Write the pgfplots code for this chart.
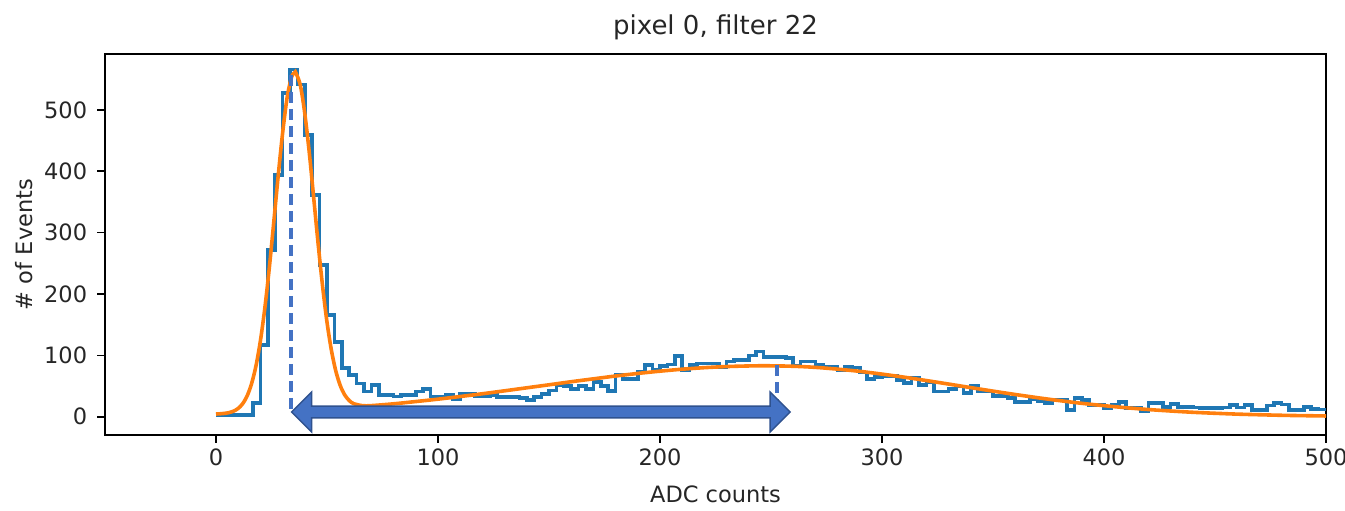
\documentclass[border=0pt]{standalone}
\usepackage{pgfplots}
\pgfplotsset{compat=1.18}
\usepackage{fontspec}
\setmainfont{DejaVu Sans}
\definecolor{mplblue}{HTML}{1F77B4}
\definecolor{mplorange}{HTML}{FF7F0E}
\definecolor{offblue}{HTML}{4472C4}
\definecolor{offdark}{HTML}{2F528F}
\begin{document}
\begin{tikzpicture}
\begin{axis}[
  name=ax,
  scale only axis,
  width=1221pt, height=381pt,
  xmin=-50, xmax=500, ymin=-29.8, ymax=591,
  xtick={0,100,200,300,400,500},
  ytick={0,100,200,300,400,500},
  tick align=outside,
  major tick length=7.7pt,
  xtick pos=bottom, ytick pos=left,
  tick style={line width=1.6pt, black},
  axis line style={line width=1.6pt, black},
  /pgf/number format/assume math mode=true,
  ticklabel style={font=\fontsize{22.5}{26}\selectfont, text=black!85},
  xticklabel style={anchor=north, inner sep=0pt, yshift=-6pt},
  yticklabel style={anchor=east, inner sep=0pt, xshift=-10pt},
  clip=false,
]
\addplot[const plot mark left, mplblue, line width=3.6pt] table {
0 3
3.333 3
6.667 3
10 3
13.333 3
16.667 22
20 117
23.333 272
26.667 394
30 527
33.333 566
36.667 541
40 459
43.333 361
46.667 247
50 166
53.333 122
56.667 79
60 68
63.333 54
66.667 41
70 52
73.333 35
76.667 35
80 33
83.333 35
86.667 35
90 41
93.333 45
96.667 33
100 33
103.333 35
106.667 28
110 38
113.333 38
116.667 33
120 33
123.333 35
126.667 32
130 32
133.333 32
136.667 30
140 27
143.333 32
146.667 37
150 43
153.333 52
156.667 50
160 45
163.333 50
166.667 45
170 57
173.333 50
176.667 42
180 68
183.333 61
186.667 61
190 73
193.333 84
196.667 76
200 83
203.333 85
206.667 99
210 76
213.333 84
216.667 87
220 87
223.333 87
226.667 81
230 90
233.333 92
236.667 92
240 100
243.333 106
246.667 97
250 97
253.333 97
256.667 96
260 83
263.333 90
266.667 90
270 84
273.333 81
276.667 81
280 76
283.333 81
286.667 80
290 72
293.333 61
296.667 65
300 66
303.333 66
306.667 60
310 55
313.333 63
316.667 52
320 57
323.333 41
326.667 41
330 45
333.333 49
336.667 39
340 50
343.333 41
346.667 41
350 34
353.333 34
356.667 30
360 24
363.333 24
366.667 28
370 25
373.333 22
376.667 27
380 27
383.333 11
386.667 30
390 27
393.333 19
396.667 19
400 14
403.333 19
406.667 24
410 14
413.333 14
416.667 9
420 22
423.333 22
426.667 16
430 21
433.333 16
436.667 16
440 15
443.333 14
446.667 14
450 14
453.333 15
456.667 19
460 15
463.333 19
466.667 11
470 11
473.333 18
476.667 22
480 20
483.333 11
486.667 11
490 16
493.333 13
496.667 12
500 12
};
\addplot[smooth, mplorange, line width=3.6pt] coordinates {
(0,4.4) (2,4.8) (4,5.5) (6,6.8) (8,9.2) (10,13.5) (12,21.1) (14,33.7) (16,53.5) (18,82.7)
(20,123.6) (22,177) (24,242) (26,316) (28,392) (30,462) (32,519) (34,553) (35.5,561) (36,560)
(38,540) (40,494) (42,431) (44,357) (46,282) (48,213) (50,154) (52,108) (54,74) (56,50.5)
(58,35.4) (60,26.4) (62,21.3) (66,18.0) (70,18.1) (80,21.0) (90,24.7) (100,28.6) (110,32.9)
(120,37.4) (130,42.2) (140,47.1) (150,52.0) (160,57.0) (170,61.7) (180,66.3) (190,70.5)
(200,74.2) (210,77.4) (220,79.9) (230,81.7) (240,82.7) (248,83.0) (260,82.2) (270,80.4)
(280,77.5) (290,73.9) (300,69.4) (310,64.4) (320,58.9) (330,53.2) (340,47.4) (350,41.7)
(360,36.2) (370,31.0) (380,26.2) (390,21.8) (400,18.0) (410,14.6) (420,11.7) (430,9.3)
(440,7.2) (450,5.6) (460,4.2) (470,3.2) (480,2.3) (490,1.7) (500,1.2)
};
\draw[offblue, line width=3.4pt, dash pattern=on 11pt off 6pt] (axis cs:33.8,557) -- (axis cs:33.8,8);
\draw[offblue, line width=3.4pt, dash pattern=on 11pt off 6pt] (axis cs:252.7,84) -- (axis cs:252.7,8);
\filldraw[fill=offblue, draw=offdark, line width=1.4pt]
 (axis cs:34.1,7.7) -- (axis cs:43.1,40.3) -- (axis cs:43.1,17.2) -- (axis cs:249.6,17.2)
 -- (axis cs:249.6,40.3) -- (axis cs:258.6,7.7) -- (axis cs:249.6,-24.9) -- (axis cs:249.6,-1.8)
 -- (axis cs:43.1,-1.8) -- (axis cs:43.1,-24.9) -- cycle;
\end{axis}
\node[anchor=base, font=\fontsize{26}{30}\selectfont, text=black!85] at ([yshift=19pt]ax.north) {pixel 0, filter 22};
\node[anchor=base, font=\fontsize{22.5}{26}\selectfont, text=black!85] at ([yshift=-68pt]ax.south) {ADC counts};
\node[anchor=base, rotate=90, font=\fontsize{22.5}{26}\selectfont, text=black!85] at ([xshift=-72pt]ax.west) {\# of Events};
\pgfresetboundingbox
\path[use as bounding box] ([shift={(-105pt,-76pt)}]ax.south west) rectangle ([shift={(19pt,54pt)}]ax.north east);
\end{tikzpicture}
\end{document}
